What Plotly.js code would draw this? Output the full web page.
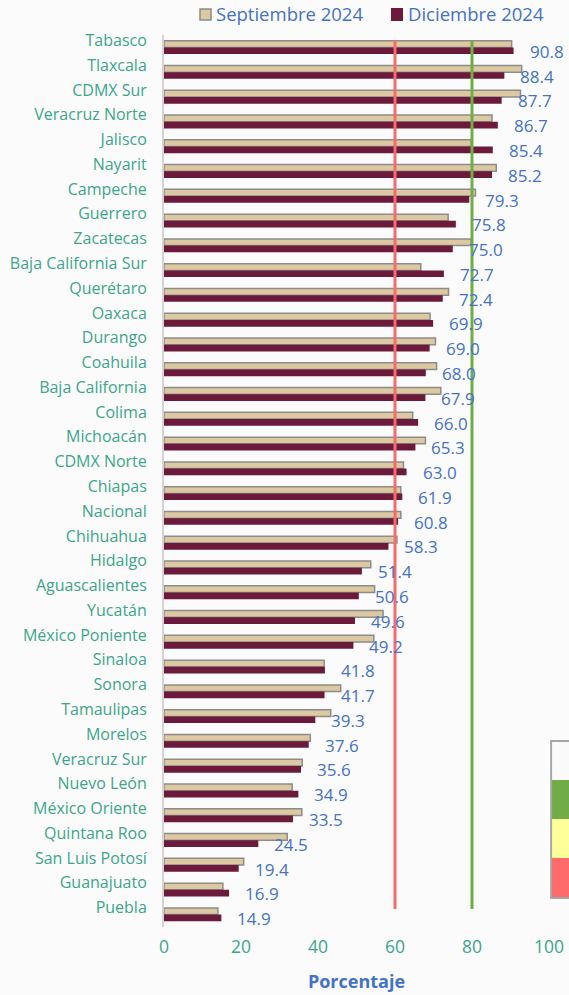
<!DOCTYPE html>
<html>
<head>
<meta charset="utf-8">
<script src="https://cdn.plot.ly/plotly-3.0.1.min.js"></script>
<style>
html,body{margin:0;padding:0;background:#fbfbfb;}
#chart{width:569px;height:995px;}
</style>
</head>
<body>
<div id="chart"></div>
<script>
const categories = ["Tabasco","Tlaxcala","CDMX Sur","Veracruz Norte","Jalisco","Nayarit","Campeche","Guerrero","Zacatecas","Baja California Sur","Querétaro","Oaxaca","Durango","Coahuila","Baja California","Colima","Michoacán","CDMX Norte","Chiapas","Nacional","Chihuahua","Hidalgo","Aguascalientes","Yucatán","México Poniente","Sinaloa","Sonora","Tamaulipas","Morelos","Veracruz Sur","Nuevo León","México Oriente","Quintana Roo","San Luis Potosí","Guanajuato","Puebla"];
const septiembre = [90.3,92.9,92.6,85.2,79.8,86.3,80.9,73.8,79.8,66.7,73.9,69.1,70.5,70.8,71.9,64.6,67.9,62.2,61.5,61.5,60.5,53.7,54.7,56.9,54.5,41.6,45.9,43.3,38.0,35.9,33.3,35.8,32.0,20.7,15.3,14.0];
const diciembre = [90.8,88.4,87.7,86.7,85.4,85.2,79.3,75.8,75.0,72.7,72.4,69.9,69.0,68.0,67.9,66.0,65.3,63.0,61.9,60.8,58.3,51.4,50.6,49.6,49.2,41.8,41.7,39.3,37.6,35.6,34.9,33.5,24.5,19.4,16.9,14.9];
const xTicks = [0,20,40,60,80,100];
const seriesNames = ["Septiembre 2024","Diciembre 2024"];
const thresholds = [60,80];

const FONT = "Open Sans, Noto Sans, sans-serif";
const TEAL = "#3BA68A";
const BLUE = "#4472C4";
const SEP_COLOR = "#DDC9A1", SEP_LINE = "#8C8C8C", DIC_COLOR = "#6B1A3B";

const traces = [
  {type:"bar", orientation:"h", name:seriesNames[0], y:categories, x:septiembre,
   marker:{color:SEP_COLOR, line:{color:SEP_LINE, width:1.5}}, hoverinfo:"x+y"},
  {type:"bar", orientation:"h", name:seriesNames[1], y:categories, x:diciembre,
   marker:{color:DIC_COLOR, line:{width:0}}, hoverinfo:"x+y"}
];

const annotations = categories.map((c,i)=>({
  x: diciembre[i], y: c, xref:"x", yref:"y", text: diciembre[i].toFixed(1),
  showarrow:false, xanchor:"left", yanchor:"middle", xshift:14, yshift:-4,
  font:{family:FONT, size:17, color:BLUE}
}));

const W = 569, HT = 995;
const H = 892, TOP = 35, L = 164, PW = 385;
const py = p => (TOP + H - p)/H;
const px = p => (p - L)/PW;

// legend (custom, drawn as swatches + real text)
annotations.push(
  {xref:"paper", yref:"paper", x:px(214), y:py(13), xanchor:"left", yanchor:"middle", showarrow:false,
   text:seriesNames[0], font:{family:FONT, size:18.5, color:BLUE}},
  {xref:"paper", yref:"paper", x:px(406), y:py(13), xanchor:"left", yanchor:"middle", showarrow:false,
   text:seriesNames[1], font:{family:FONT, size:18.5, color:BLUE}}
);

const shapes = [
  {type:"rect", xref:"paper", yref:"paper", x0:px(200), x1:px(211), y0:py(20), y1:py(9),
   fillcolor:SEP_COLOR, line:{color:SEP_LINE, width:1.5}},
  {type:"rect", xref:"paper", yref:"paper", x0:px(391), x1:px(403), y0:py(21), y1:py(8),
   fillcolor:DIC_COLOR, line:{width:0}},
  {type:"line", xref:"x", yref:"paper", x0:thresholds[0], x1:thresholds[0], y0:py(909), y1:py(40),
   line:{color:"#F66B6B", width:3}, layer:"above"},
  {type:"line", xref:"x", yref:"paper", x0:thresholds[1], x1:thresholds[1], y0:py(909), y1:py(40),
   line:{color:"#70AD47", width:3}, layer:"above"},
  {type:"rect", xref:"paper", yref:"paper", x0:1.003, x1:1.2, y0:py(899), y1:py(740), fillcolor:"#A6A6A6", line:{width:0}},
  {type:"rect", xref:"paper", yref:"paper", x0:1.008, x1:1.2, y0:py(780), y1:py(742), fillcolor:"#FAFAFA", line:{width:0}},
  {type:"rect", xref:"paper", yref:"paper", x0:1.008, x1:1.2, y0:py(819), y1:py(780), fillcolor:"#70AD47", line:{width:0}},
  {type:"rect", xref:"paper", yref:"paper", x0:1.008, x1:1.2, y0:py(858), y1:py(819), fillcolor:"#FFFF99", line:{width:0}},
  {type:"rect", xref:"paper", yref:"paper", x0:1.008, x1:1.2, y0:py(897), y1:py(858), fillcolor:"#FF6B6B", line:{width:0}}
];

const layout = {
  width:W, height:HT,
  margin:{l:L, r:W-L-PW, t:TOP, b:HT-TOP-H, pad:0},
  paper_bgcolor:"#FBFBFB", plot_bgcolor:"rgba(0,0,0,0)",
  barmode:"group", bargap:0.46, bargroupgap:0,
  font:{family:FONT},
  showlegend:false,
  xaxis:{range:[0,100], tickvals:xTicks, ticktext:xTicks.map(String), showgrid:false, zeroline:false,
    showline:false, ticks:"", tickfont:{family:FONT, size:17.5, color:TEAL}, ticklabelstandoff:7,
    title:{text:"<b>Porcentaje</b>", font:{family:FONT, size:18, color:BLUE}, standoff:18}, fixedrange:true},
  yaxis:{type:"category", range:[categories.length-0.5, -0.5], autorange:false, showgrid:false, zeroline:false, showline:true,
    linecolor:"#D4D4D4", linewidth:2, ticks:"", tickfont:{family:FONT, size:16, color:TEAL},
    ticklabelstandoff:12, ticklabelshift:7, fixedrange:true},
  annotations: annotations,
  shapes: shapes
};

Plotly.newPlot("chart", traces, layout, {displayModeBar:false, staticPlot:true});
</script>
</body>
</html>
